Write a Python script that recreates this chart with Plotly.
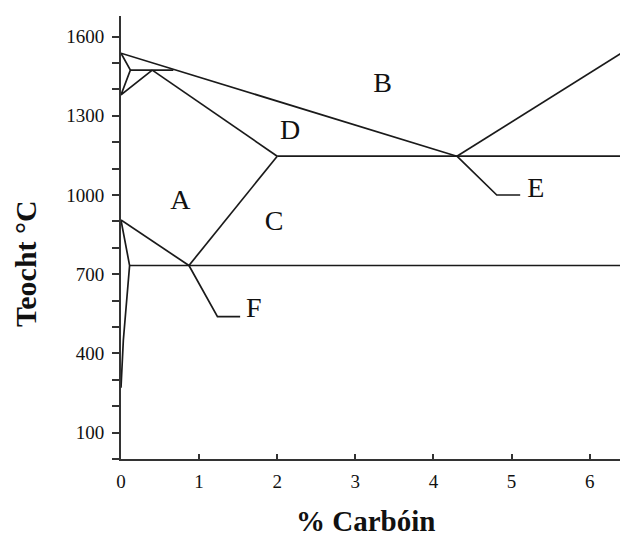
import plotly.graph_objects as go

# Phase boundaries (% carbon, temperature °C)
liquidus_x = [0.0, 4.3]
liquidus_y = [1537, 1147]
cementite_liquidus_x = [4.3, 6.5]
cementite_liquidus_y = [1147, 1555]
eutectic_x = [2.0, 6.5]
eutectic_y = [1147, 1147]
solidus_x = [0.4, 2.0]
solidus_y = [1473, 1147]
delta_x = [0.0, 0.12, 0.0, 0.4]
delta_y = [1537, 1473, 1379, 1473]
peritectic_x = [0.12, 0.67]
peritectic_y = [1473, 1473]
a3_x = [0.0, 0.87]
a3_y = [905, 733]
acm_x = [0.87, 2.0]
acm_y = [733, 1147]
eutectoid_x = [0.11, 6.5]
eutectoid_y = [733, 733]
ferrite_x = [0.0, 0.11, 0.03, 0.0]
ferrite_y = [905, 733, 450, 270]

# Leader lines for labels
leader_f_x = [0.87, 1.235, 1.525]
leader_f_y = [733, 539, 539]
leader_e_x = [4.3, 4.81, 5.11]
leader_e_y = [1147, 1000, 1000]

# Region labels
label_text = ["A", "B", "C", "D", "E", "F"]
label_x = [0.76, 3.35, 1.96, 2.165, 5.31, 1.70]
label_y = [974, 1417, 894, 1239, 1019, 564]

y_tickvals = [100, 400, 700, 1000, 1300, 1600]
x_tickvals = [0, 1, 2, 3, 4, 5, 6]

line_color = "#1a1a1a"
fig = go.Figure()
segments = [
    (liquidus_x, liquidus_y), (cementite_liquidus_x, cementite_liquidus_y),
    (eutectic_x, eutectic_y), (solidus_x, solidus_y), (delta_x, delta_y),
    (peritectic_x, peritectic_y), (a3_x, a3_y), (acm_x, acm_y),
    (eutectoid_x, eutectoid_y), (ferrite_x, ferrite_y),
    (leader_f_x, leader_f_y), (leader_e_x, leader_e_y),
]
for xs, ys in segments:
    fig.add_trace(go.Scatter(x=xs, y=ys, mode="lines",
                             line=dict(color=line_color, width=1.7),
                             showlegend=False, hoverinfo="skip"))

fig.add_trace(go.Scatter(x=label_x, y=label_y, mode="text", text=label_text,
                         textfont=dict(family="Liberation Serif", size=28, color="#111"),
                         showlegend=False, hoverinfo="skip"))

fig.update_layout(
    width=620, height=530,
    margin=dict(l=113, r=0, t=8, b=79),
    paper_bgcolor="white", plot_bgcolor="white",
    font=dict(family="Liberation Serif", color="#111"),
    xaxis=dict(range=[0, 6.49], tickvals=x_tickvals, ticks="inside", ticklen=5,
               tickcolor="#333", tickwidth=1.5, showline=True, linecolor="#333",
               linewidth=2, showgrid=False, zeroline=False,
               tickfont=dict(size=19, family="Liberation Serif"), ticklabelstandoff=4),
    yaxis=dict(range=[0, 1678], tickvals=y_tickvals, ticks="outside", ticklen=7,
               tickcolor="#333", tickwidth=1.5, showline=True, linecolor="#333",
               linewidth=2, showgrid=False, zeroline=False,
               minor=dict(dtick=100, tick0=0, ticks="outside", ticklen=7,
                          tickcolor="#333", tickwidth=1.5),
               tickfont=dict(size=19, family="Liberation Serif"), ticklabelstandoff=4),
    annotations=[
        dict(text="<b>% Carbóin</b>", xref="paper", yref="paper",
             x=(365 - 121) / 507, y=-(521 - 459) / 443, showarrow=False,
             xanchor="center", yanchor="middle",
             font=dict(size=29, family="Liberation Serif", color="#111")),
        dict(text="<b>Teocht °C</b>", xref="paper", yref="paper",
             x=-(121 - 25) / 507, y=(459 - 264) / 443, showarrow=False, textangle=-90,
             xanchor="center", yanchor="middle",
             font=dict(size=30, family="Liberation Serif", color="#111")),
    ],
)
fig.write_html("out.html")
